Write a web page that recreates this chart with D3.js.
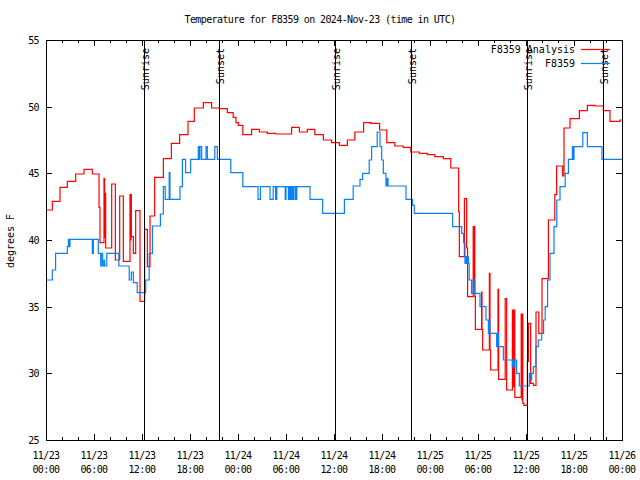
<!DOCTYPE html>
<html><head><meta charset="utf-8">
<script src="https://cdn.jsdelivr.net/npm/d3@7"></script>
<style>
html,body{margin:0;padding:0;background:#fff;}
svg text{font-family:"DejaVu Sans Mono",monospace;font-size:10px;letter-spacing:-0.6px;fill:#000;}
svg text.wide{letter-spacing:0px;}
</style></head><body>
<svg id="c" width="640" height="480"></svg>
<script>
// ---- data (hours since 2024-11-23 00:00 UTC, degrees F) ----
const titleText = "Temperature for F8359 on 2024-Nov-23 (time in UTC)";
const yLabel = "degrees F";
const seriesNames = ["F8359 Analysis", "F8359"];
const yTicks = [25, 30, 35, 40, 45, 50, 55];
const sunrise = [12.25, 36.15, 60.17];
const sunset = [21.67, 45.63, 69.67];

const analysis = [
 [0,42.25],[0.79,42.9],[1.75,43.95],[2.67,44.4],[3.71,44.95],[4.75,45.3],[5.79,44.95],
 [6.63,42.45],[6.75,39.8],[7.25,44.6],[7.33,40.2],[7.4,43.5],[7.46,39.4],[8.21,44.2],
 [8.67,38.5],[9.21,43.3],[9.67,38.4],[10.5,43.4],[10.58,40.0],[10.62,43.4],[10.67,40.25],
 [10.92,39.0],[11.21,42.2],[11.75,35.4],[12.33,40.8],[12.67,38.0],[13.0,41.8],[13.58,44.7],
 [14.67,46.1],[15.67,47.25],[16.7,47.9],[17.75,48.9],[18.54,49.9],[19.67,50.3],[20.7,49.9],
 [21.67,49.85],[22.67,49.55],[23.4,49.2],[23.75,48.8],[24.04,48.6],[24.6,47.9],[25.7,48.3],
 [26.67,48.1],[27.67,48.0],[28.7,47.95],[30.7,48.45],[31.67,48.1],[32.67,48.3],[33.6,47.9],
 [34.67,47.5],[35.7,47.3],[36.67,47.1],[37.67,47.5],[38.6,48.1],[39.7,48.8],[40.6,48.75],
 [41.7,48.25],[42.6,47.3],[43.6,47.05],[44.67,46.95],[45.6,46.6],[46.67,46.5],[47.67,46.4],
 [48.6,46.25],[49.67,46.1],[50.6,45.4],[51.58,42.1],[51.67,38.75],[52.3,43.1],[52.58,39.4],
 [52.7,35.75],[53.4,41.0],[53.5,36.5],[53.55,41.0],[53.6,35.75],[53.67,33.3],[54.45,36.1],
 [54.5,33.3],[54.58,31.75],[55.42,37.5],[55.5,31.75],[55.58,30.25],[56.5,36.3],[56.58,29.55],
 [57.4,35.6],[57.58,28.75],[58.3,34.75],[58.4,29.0],[58.5,34.75],[58.6,28.2],[59.4,34.45],
 [59.5,28.0],[59.55,34.45],[59.6,27.75],[59.75,27.6],[60.17,30.9],[60.3,33.75],[60.58,29.25],
 [60.92,29.1],[61.25,34.6],[61.6,33.0],[62.0,37.1],[62.8,41.5],[63.6,43.4],[63.83,45.55],
 [64.58,44.8],[64.75,48.4],[65.5,49.1],[66.67,49.7],[67.67,50.1],[68.6,50.05],[69.67,49.7],
 [70.5,48.9],[71.75,49.0],[72,49.0]
];

const observed = [
 [0,37.0],[0.79,37.75],[1.2,39.0],[2.67,39.5],[2.8,40.05],[2.9,39.5],[3.0,40.05],[5.79,39.0],
 [5.92,40.05],[6.54,39.0],[6.83,38.05],[7.0,39.0],[7.08,38.05],[7.25,38.5],[7.33,38.05],
 [7.6,39.0],[9.1,38.05],[10.4,37.0],[10.67,37.6],[10.92,36.8],[11.4,36.05],[12.46,37.0],
 [12.9,39.0],[13.3,41.05],[14.3,41.95],[14.67,44.0],[14.9,43.05],[15.4,45.05],[15.5,43.05],
 [16.75,44.0],[17.05,46.05],[17.45,45.05],[18.08,46.05],[19.04,47.0],[19.15,46.05],
 [19.25,47.0],[19.46,46.05],[20.0,47.0],[20.17,46.05],[21.1,47.0],[21.42,46.05],[23.1,45.05],
 [24.6,44.0],[26.5,43.05],[26.8,44.0],[28.0,43.05],[28.4,44.0],[28.7,43.05],[28.85,44.0],
 [29.9,43.05],[30.0,44.0],[30.3,43.05],[30.45,44.0],[30.6,43.05],[30.75,44.0],[30.85,43.05],
 [31.0,44.0],[31.2,43.05],[31.35,44.0],[33.0,43.05],[34.58,42.0],[37.3,43.05],[38.4,44.05],
 [39.25,44.55],[39.58,45.0],[40.4,46.0],[40.7,47.0],[41.4,48.1],[41.75,47.0],[41.96,46.0],
 [42.17,45.0],[42.5,44.05],[42.6,44.6],[42.75,44.05],[45.0,43.05],[45.83,42.6],[46.04,42.0],
 [50.83,41.0],[51.96,40.5],[52.2,39.8],[52.375,38.25],[52.5,38.75],[52.6,38.25],[52.7,38.75],
 [52.8,38.25],[52.9,37.0],[53.2,36.0],[53.4,37.0],[53.6,36.0],[54.25,35.0],[55.0,34.0],
 [55.3,33.0],[55.4,34.0],[55.5,33.0],[56.33,32.0],[56.45,33.0],[56.55,32.0],[57.17,31.0],
 [58.3,30.5],[58.4,31.0],[58.5,30.5],[58.6,31.0],[58.83,30.0],[59.17,29.05],[60.42,30.0],
 [60.6,29.5],[60.7,30.0],[60.92,30.5],[61.25,32.0],[61.54,32.5],[61.96,33.0],[62.2,34.0],
 [62.4,35.0],[62.7,37.0],[63.0,39.0],[63.5,41.0],[63.85,43.0],[64.25,44.0],[64.9,45.0],
 [65.3,46.05],[65.8,47.0],[65.9,46.05],[66.0,47.0],[67.1,48.05],[67.67,47.0],[69.5,46.05],
 [72,46.05]
];

// ---- chart ----
const svg = d3.select("#c");
const M = {l:46, r:622, t:40, b:440};
const t0 = Date.UTC(2024,10,23);
const toDate = h => new Date(t0 + h*3600e3);
const x = d3.scaleUtc().domain([toDate(0), toDate(72)]).range([M.l, M.r]);
const y = d3.scaleLinear().domain([25,55]).range([M.b, M.t]);

svg.append("rect").attr("width",640).attr("height",480).attr("fill","#fff");

const line = d3.line().curve(d3.curveStepAfter).x(d=>x(toDate(d[0]))).y(d=>y(d[1]));
svg.append("path").datum(analysis).attr("d",line).attr("fill","none")
  .attr("stroke","#ff0000").attr("stroke-width",1.2);
svg.append("path").datum(observed).attr("d",line).attr("fill","none")
  .attr("stroke","#0a80f5").attr("stroke-width",1.2);

// frame
svg.append("rect").attr("x",M.l+0.5).attr("y",M.t+0.5).attr("width",M.r-M.l).attr("height",M.b-M.t)
  .attr("fill","none").attr("stroke","#000").attr("stroke-width",1);

// x ticks
const major = x.ticks(d3.utcHour.every(6));
const minor = x.ticks(d3.utcHour.every(2));
const g = svg.append("g").attr("stroke","#000").attr("stroke-width",1);
minor.forEach(d=>{
  const isMaj = d.getUTCHours()%6===0;
  const L = isMaj?6:3;
  const px = Math.round(x(d))+0.5;
  g.append("line").attr("x1",px).attr("x2",px).attr("y1",M.b).attr("y2",M.b-L);
  g.append("line").attr("x1",px).attr("x2",px).attr("y1",M.t).attr("y2",M.t+L);
});
const fmt1 = d3.utcFormat("%m/%d"), fmt2 = d3.utcFormat("%H:%M");
major.forEach(d=>{
  const px = x(d);
  svg.append("text").attr("x",px).attr("y",459).attr("text-anchor","middle").text(fmt1(d));
  svg.append("text").attr("x",px).attr("y",473).attr("text-anchor","middle").text(fmt2(d));
});
// y ticks
yTicks.forEach(v=>{
  const py = Math.round(y(v))+0.5;
  g.append("line").attr("x1",M.l).attr("x2",M.l+6).attr("y1",py).attr("y2",py);
  g.append("line").attr("x1",M.r).attr("x2",M.r-6).attr("y1",py).attr("y2",py);
  svg.append("text").attr("x",39).attr("y",y(v)+4).attr("text-anchor","end").text(v);
});

// sunrise / sunset lines
function mark(h, label){
  const px = Math.round(x(toDate(h)))+0.5;
  svg.append("line").attr("x1",px).attr("x2",px).attr("y1",M.t).attr("y2",M.b)
    .attr("stroke","#000").attr("stroke-width",1);
  svg.append("text").attr("class","wide").attr("transform",`translate(${px+4},48) rotate(-90)`)
    .attr("text-anchor","end").text(label);
}
sunrise.forEach(h=>mark(h,"Sunrise"));
sunset.forEach(h=>mark(h,"Sunset"));

// title & y label
svg.append("text").attr("x",320).attr("y",23).attr("text-anchor","middle").text(titleText);
svg.append("text").attr("class","wide").attr("transform","translate(14,241) rotate(-90)").attr("text-anchor","middle").text(yLabel);

// legend
const cols = ["#ff0000","#0a80f5"];
seriesNames.forEach((n,i)=>{
  const ly = 49 + i*14;
  svg.append("text").attr("class","wide").attr("x",575).attr("y",ly+4).attr("text-anchor","end").text(n);
  svg.append("line").attr("x1",581).attr("x2",610).attr("y1",ly+0.5).attr("y2",ly+0.5)
    .attr("stroke",cols[i]).attr("stroke-width",1.2);
});
</script></body></html>
